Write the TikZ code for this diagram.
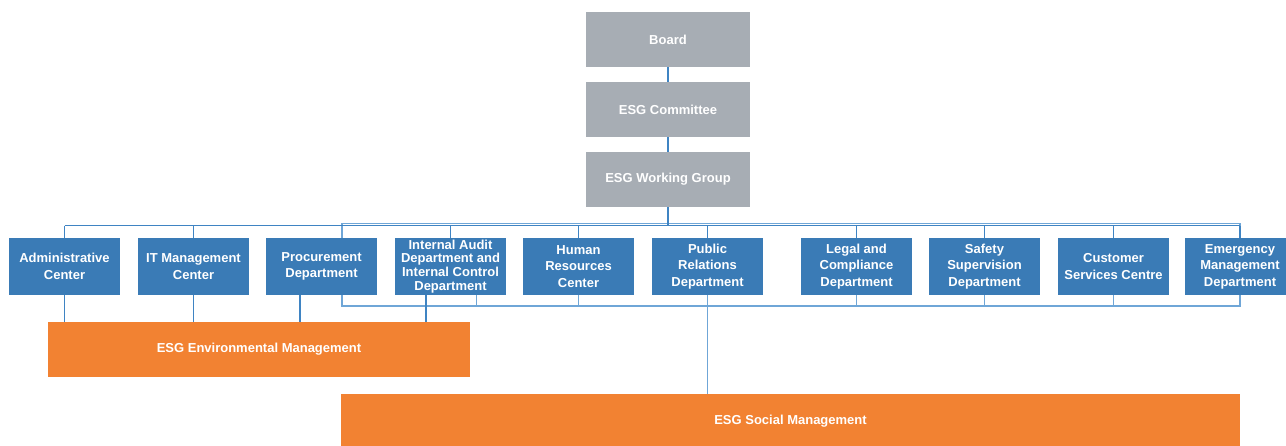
\documentclass[tikz,border=0pt]{standalone}
\usepackage{fontspec}
\setmainfont{Liberation Sans}
\usetikzlibrary{backgrounds}
\definecolor{boardgrey}{HTML}{A7ADB4}
\definecolor{deptblue}{HTML}{3A7BB6}
\definecolor{esgorange}{HTML}{F28232}
\definecolor{linkblue}{HTML}{3F84C3}
\definecolor{sociallink}{HTML}{6FA6D7}

\begin{document}
\begin{tikzpicture}[x=1pt,y=-1pt,
    box/.style={rectangle,inner sep=1pt,align=center,text=white,font=\bfseries\fontsize{13}{16.5}\selectfont},
    govbox/.style={box,fill=boardgrey,minimum width=164pt,minimum height=55pt},
    deptbox/.style={box,fill=deptblue,minimum width=111pt,minimum height=57pt},
    esgbox/.style={box,fill=esgorange},
    link/.style={draw=linkblue,line width=1.7pt},
    soclink/.style={draw=sociallink,line width=1.7pt}]
            \useasboundingbox (0,0) rectangle (1286,445);
            \node[govbox] (board) at (668,39.5) {Board};
            \node[govbox] (committee) at (668,109.5) {ESG Committee};
            \node[govbox] (group) at (668,179.5) {ESG Working Group};
            \node[deptbox] (admin) at (64.5,266.5) {Administrative\\Center};
            \node[deptbox] (it) at (193.5,266.5) {IT Management\\Center};
            \node[deptbox] (procure) at (321.5,266.5) {Procurement\\Department};
            \node[deptbox,font=\bfseries\fontsize{13}{13.8}\selectfont] (audit) at (450.5,266.5) {Internal Audit\\Department and\\Internal Control\\Department};
            \node[deptbox] (hr) at (578.5,266.5) {Human\\Resources\\Center};
            \node[deptbox] (pr) at (707.5,266.5) {Public\\Relations\\Department};
            \node[deptbox] (legal) at (856.5,266.5) {Legal and\\Compliance\\Department};
            \node[deptbox] (safety) at (984.5,266.5) {Safety\\Supervision\\Department};
            \node[deptbox] (cust) at (1113.5,266.5) {Customer\\Services Centre};
            \node[deptbox] (emerg) at (1240,266.5) {Emergency\\Management\\Department};
            \node[esgbox,minimum width=422pt,minimum height=55pt] (env) at (259,349.5) {ESG Environmental Management};
            \node[esgbox,minimum width=899pt,minimum height=54pt] (social) at (790.5,421) {ESG Social Management};
            \coordinate (topbus) at (0,225.5);
            \coordinate (socL) at (342,223.5);
            \coordinate (socR) at (emerg.north |- 0,306);
            \begin{scope}[on background layer]
                \draw[soclink] (socL) rectangle (socR);
                \foreach \d/\s in {audit/26,hr/0,pr/0,legal/0,safety/0,cust/0}
                    \draw[soclink] ([xshift=\s pt]\d.south) -- ([xshift=\s pt]\d.south |- socR);
                \draw[soclink] (pr.south) -- (social.north -| pr.south);
                \draw[link] (board) -- (committee);
                \draw[link] (committee) -- (group);
                \draw[link] (group.south) -- (topbus -| group.south);
                \draw[link] (topbus -| admin.north) -- (topbus -| emerg.north);
                \foreach \d in {admin,it,audit,hr,pr,legal,safety,cust,emerg}
                    \draw[link] (topbus -| \d.north) -- (\d.north);
                \foreach \d/\s in {admin/0,it/0,procure/-21.5,audit/-24.5}
                    \draw[link] ([xshift=\s pt]\d.south) -- ([xshift=\s pt]\d.south |- env.north);
            \end{scope}
        \end{tikzpicture}
\end{document}
